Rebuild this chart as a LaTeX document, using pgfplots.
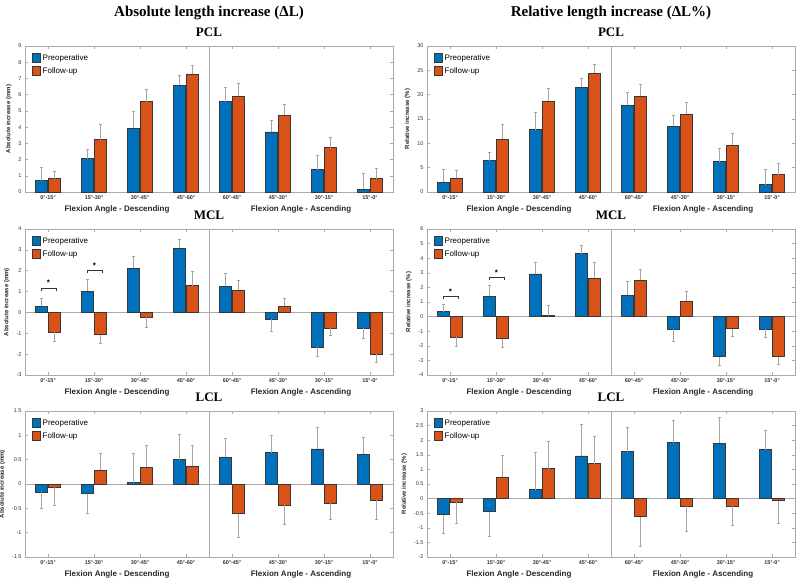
\documentclass[border=0pt]{standalone}
\usepackage{fontspec}
\setmainfont{Liberation Serif}
\setsansfont{Liberation Sans}
\usepackage{pgfplots}
\pgfplotsset{compat=1.18}
\usepackage{pgfplotstable}

\definecolor{cpre}{RGB}{0,114,189}
\definecolor{cfol}{RGB}{217,83,25}
\definecolor{cedge}{RGB}{55,55,55}
\definecolor{cerr}{RGB}{165,165,165}
\definecolor{cframe}{RGB}{170,170,170}

\pgfplotstableread{
g pre preE fol folE
1 0.70 1.53 0.82 1.29
2 2.05 2.60 3.21 4.15
3 3.93 5.00 5.56 6.34
4 6.58 7.22 7.26 7.81
5 5.56 6.44 5.91 6.69
6 3.70 4.44 4.74 5.40
7 1.37 2.27 2.74 3.39
8 0.18 1.12 0.82 1.47
}\absPCL

\pgfplotstableread{
g pre preE fol folE
1 2.05 4.6 2.8 4.4
2 6.44 8.1 10.8 14.0
3 12.8 16.3 18.6 21.2
4 21.5 23.3 24.4 26.2
5 17.8 20.5 19.7 22.2
6 13.5 15.75 16.0 18.4
7 6.2 9.0 9.6 12.0
8 1.5 4.6 3.56 5.8
}\relPCL

\pgfplotstableread{
g pre preE fol folE
1 0.29 0.67 -0.96 -1.41
2 1.02 1.57 -1.07 -1.50
3 2.11 2.68 -0.22 -0.72
4 3.08 3.50 1.29 1.98
5 1.26 1.88 1.07 1.53
6 -0.32 -0.89 0.30 0.69
7 -1.68 -2.12 -0.77 -1.09
8 -0.77 -1.23 -2.01 -2.38
}\absMCL

\pgfplotstableread{
g pre preE fol folE
1 0.32 0.83 -1.43 -2.07
2 1.38 2.14 -1.52 -2.11
3 2.92 3.72 0.05 0.80
4 4.32 4.85 2.64 3.72
5 1.45 2.41 2.48 3.24
6 -0.87 -1.68 1.06 1.75
7 -2.74 -3.36 -0.83 -1.38
8 -0.87 -1.43 -2.74 -3.29
}\relMCL

\pgfplotstableread{
g pre preE fol folE
1 -0.17 -0.50 -0.065 -0.43
2 -0.20 -0.60 0.28 0.64
3 0.03 0.63 0.34 0.80
4 0.50 1.02 0.36 0.80
5 0.55 0.94 -0.61 -1.09
6 0.64 1.00 -0.44 -0.83
7 0.72 1.16 -0.40 -0.72
8 0.61 0.95 -0.33 -0.72
}\absLCL

\pgfplotstableread{
g pre preE fol folE
1 -0.55 -1.18 -0.13 -0.85
2 -0.45 -1.28 0.73 1.49
3 0.31 1.59 1.03 1.97
4 1.46 2.55 1.20 2.13
5 1.61 2.44 -0.62 -1.62
6 1.91 2.69 -0.27 -1.11
7 1.90 2.78 -0.26 -0.92
8 1.67 2.33 -0.08 -0.86
}\relLCL

\pgfplotsset{
  panel/.style={
    scale only axis, width=368pt, height=146pt,
    clip=false,
    xmin=0.5, xmax=8.5,
    xtick={1,...,8},
    xticklabels={0°-15°,15°-30°,30°-45°,45°-60°,60°-45°,45°-30°,30°-15°,15°-0°},
    x tick label style={font=\sffamily\bfseries\fontsize{5.5}{6}\selectfont, text=black!80},
    y tick label style={font=\sffamily\fontsize{5.5}{6}\selectfont, text=black!80},
    /pgf/number format/assume math mode=true,
    tick align=inside,
    major tick length=3pt,
    tick style={cframe, line width=0.5pt},
    axis line style={cframe, line width=0.6pt},
    title style={font=\bfseries\fontsize{13}{15}\selectfont},
    ylabel style={font=\sffamily\bfseries\fontsize{6}{7}\selectfont, text=black!85},
    extra x ticks={4.5}, extra x tick labels={},
    extra x tick style={grid=major, major grid style={cframe, line width=0.6pt}, major tick length=0pt},
    extra y ticks={0}, extra y tick labels={},
    extra y tick style={grid=major, major grid style={cframe, line width=0.6pt}, major tick length=0pt},
    legend style={at={(0.018,0.955)}, anchor=north west, draw=none, fill=none,
      font=\sffamily\fontsize{8}{9}\selectfont, row sep=1.5pt, inner sep=0pt},
    legend cell align=left,
    legend image code/.code={\draw[#1, line width=0.9pt] (0pt,-4.5pt) rectangle (8pt,4.5pt);},
  },
  prebar/.style={ybar, bar width=0.26, bar shift=-0.145, fill=cpre, draw=cedge, line width=0.9pt},
  folbar/.style={ybar, bar width=0.26, bar shift=0.145, fill=cfol, draw=cedge, line width=0.9pt},
  errstyle/.style={draw=none, mark=none, forget plot,
    error bars/y explicit,
    error bars/error bar style={draw=cerr, line width=0.7pt},
    error bars/error mark options={draw=cerr, line width=0.7pt, mark size=1.6pt, rotate=90}},
}

\newcommand{\errs}[3]{%
  \addplot[errstyle, error bars/y dir=plus, restrict y to domain=0:1000]
    table[x expr=\thisrow{g}+#3, y=#2, y error expr=\thisrow{#2E}-\thisrow{#2}]{#1};
  \addplot[errstyle, error bars/y dir=minus, restrict y to domain=-1000:0]
    table[x expr=\thisrow{g}+#3, y=#2, y error expr=\thisrow{#2}-\thisrow{#2E}]{#1};
}
\newcommand{\panelplots}[1]{%
  \addplot[prebar] table[x=g, y=pre]{#1};
  \addplot[folbar] table[x=g, y=fol]{#1};
  \legend{Preoperative,Follow-up}
  \errs{#1}{pre}{-0.145}
  \errs{#1}{fol}{0.145}
  \node[font=\sffamily\bfseries\fontsize{8}{9}\selectfont, text=black!85, anchor=north]
    at (rel axis cs:0.25,0) [yshift=-10pt] {Flexion Angle - Descending};
  \node[font=\sffamily\bfseries\fontsize{8}{9}\selectfont, text=black!85, anchor=north]
    at (rel axis cs:0.75,0) [yshift=-10pt] {Flexion Angle - Ascending};
}

\begin{document}
\begin{tikzpicture}
\path[use as bounding box] (0,0) rectangle (798pt,582pt);

\node[font=\bfseries\fontsize{15}{18}\selectfont] at (209pt,569pt) {Absolute length increase (ΔL)};
\node[font=\bfseries\fontsize{15}{18}\selectfont] at (611pt,569pt) {Relative length increase (ΔL\%)};

% Row 1
\begin{axis}[panel, at={(25pt,390pt)}, anchor=south west, title={PCL},
  ymin=0, ymax=9, ytick={0,...,9}, ylabel={Absolute increase (mm)}]
\panelplots{\absPCL}
\end{axis}
\begin{axis}[panel, at={(427pt,390pt)}, anchor=south west, title={PCL},
  ymin=0, ymax=30, ytick={0,5,...,30}, ylabel={Relative increase (\%)}]
\panelplots{\relPCL}
\end{axis}

% Row 2
\begin{axis}[panel, at={(25pt,207pt)}, anchor=south west, title={MCL},
  ymin=-3, ymax=4, ytick={-3,...,4}, ylabel={Absolute increase (mm)}]
\panelplots{\absMCL}
\draw[black!80, line width=0.5pt] (axis cs:0.855,1.04) -- (axis cs:0.855,1.17) -- (axis cs:1.17,1.17) -- (axis cs:1.17,1.04);
\draw[black!80, line width=0.5pt] (axis cs:1.855,1.88) -- (axis cs:1.855,2.01) -- (axis cs:2.17,2.01) -- (axis cs:2.17,1.88);
\node[font=\sffamily\bfseries\fontsize{8}{9}\selectfont, anchor=base] at (axis cs:1.01,1.27) {*};
\node[font=\sffamily\bfseries\fontsize{8}{9}\selectfont, anchor=base] at (axis cs:2.01,2.10) {*};
\end{axis}
\begin{axis}[panel, at={(427pt,207pt)}, anchor=south west, title={MCL},
  ymin=-4, ymax=6, ytick={-4,...,6}, ylabel={Relative increase (\%)}]
\panelplots{\relMCL}
\draw[black!80, line width=0.5pt] (axis cs:0.855,1.22) -- (axis cs:0.855,1.40) -- (axis cs:1.17,1.40) -- (axis cs:1.17,1.22);
\draw[black!80, line width=0.5pt] (axis cs:1.855,2.49) -- (axis cs:1.855,2.67) -- (axis cs:2.17,2.67) -- (axis cs:2.17,2.49);
\node[font=\sffamily\bfseries\fontsize{8}{9}\selectfont, anchor=base] at (axis cs:1.01,1.48) {*};
\node[font=\sffamily\bfseries\fontsize{8}{9}\selectfont, anchor=base] at (axis cs:2.01,2.79) {*};
\end{axis}

% Row 3
\begin{axis}[panel, at={(25pt,25pt)}, anchor=south west, title={LCL},
  ymin=-1.5, ymax=1.5, ytick={-1.5,-1,...,1.5}, ylabel={Absolute increase (mm)}]
\panelplots{\absLCL}
\end{axis}
\begin{axis}[panel, at={(427pt,25pt)}, anchor=south west, title={LCL},
  ymin=-2, ymax=3, ytick={-2,-1.5,...,3}, ylabel={Relative increase (\%)}]
\panelplots{\relLCL}
\end{axis}
\end{tikzpicture}
\end{document}
